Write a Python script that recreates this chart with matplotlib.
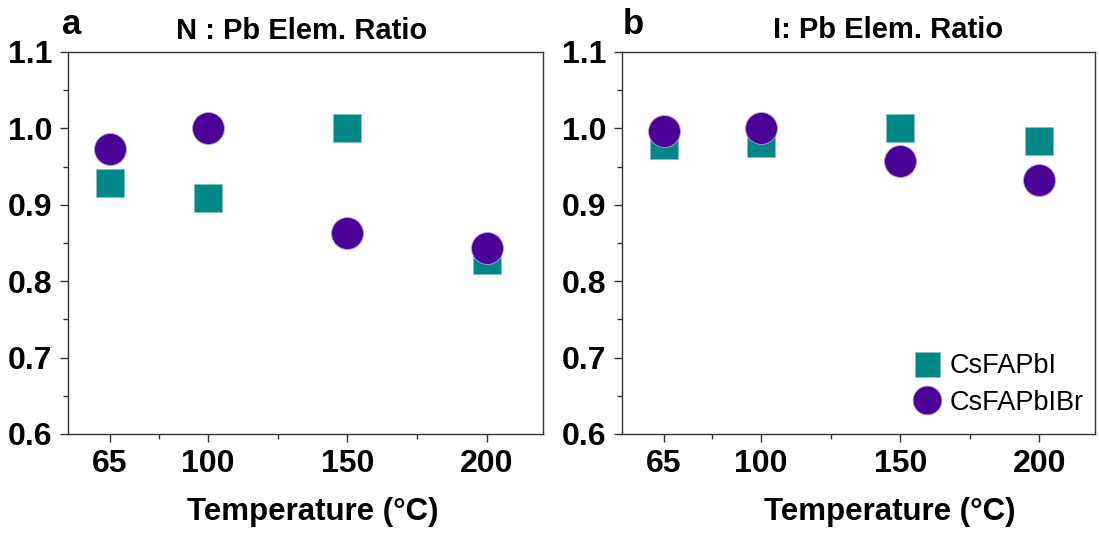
import numpy as np
import matplotlib
matplotlib.use('Agg')
import matplotlib.pyplot as plt
from matplotlib.ticker import FixedLocator, MultipleLocator

# Data
temps = [65, 100, 150, 200]
n_pb_csfapbi = [0.929, 0.909, 1.000, 0.828]
n_pb_csfapbibr = [0.973, 1.000, 0.863, 0.844]
i_pb_csfapbi = [0.978, 0.981, 1.000, 0.983]
i_pb_csfapbibr = [0.997, 1.000, 0.957, 0.933]

TEAL = '#008787'
PURPLE = '#4b0096'
W, H = 1099, 534

plt.rcParams['font.family'] = ['Liberation Sans', 'DejaVu Sans']

fig = plt.figure(figsize=(W / 100, H / 100), dpi=100)


def px_axes(left, top, right, bottom):
    return fig.add_axes([left / W, 1 - bottom / H, (right - left) / W, (bottom - top) / H])


def style(ax):
    ax.set_xlim(50, 220)
    ax.set_ylim(0.6, 1.1)
    ax.xaxis.set_major_locator(FixedLocator(temps))
    ax.xaxis.set_minor_locator(FixedLocator([82.5, 125, 175]))
    ax.yaxis.set_major_locator(MultipleLocator(0.1))
    ax.yaxis.set_minor_locator(MultipleLocator(0.05))
    ax.yaxis.set_major_formatter(plt.FormatStrFormatter('%.1f'))
    for s in ax.spines.values():
        s.set_color('#333333')
        s.set_linewidth(1.0)
    ax.tick_params(which='major', direction='out', length=6, width=1.0, color='#333333',
                   labelsize=23, pad=5)
    ax.tick_params(which='minor', direction='out', length=3.5, width=1.0, color='#333333')
    for lab in ax.get_xticklabels() + ax.get_yticklabels():
        lab.set_fontweight('bold')


def draw(ax, sq, ci):
    ax.plot(temps, sq, 's', ms=20, color=TEAL, mec='#7fc4c4', mew=0.6, ls='none', label='CsFAPbI')
    ax.plot(temps, ci, 'o', ms=23, color=PURPLE, mec='#b8a0d8', mew=0.6, ls='none', label='CsFAPbIBr')


ax_a = px_axes(68, 52, 543, 434)
draw(ax_a, n_pb_csfapbi, n_pb_csfapbibr)
style(ax_a)

ax_b = px_axes(622, 52, 1095, 434)
draw(ax_b, i_pb_csfapbi, i_pb_csfapbibr)
style(ax_b)

leg = ax_b.legend(loc='upper left', bbox_to_anchor=(913 / W, 1 - 353 / H),
                  bbox_transform=fig.transFigure, frameon=False, fontsize=19.5,
                  handlelength=1.0, handletextpad=0.35, borderpad=0, borderaxespad=0,
                  labelspacing=0.4, markerscale=0.9)

# panel letters, titles and axis labels
fig.text(62 / W, 1 - 34 / H, 'a', fontsize=25, fontweight='bold', va='baseline')
fig.text(623 / W, 1 - 34 / H, 'b', fontsize=25, fontweight='bold', va='baseline')
fig.text(302 / W, 1 - 39 / H, 'N : Pb Elem. Ratio', fontsize=21, fontweight='bold',
         ha='center', va='baseline')
fig.text(888 / W, 1 - 38 / H, 'I: Pb Elem. Ratio', fontsize=21, fontweight='bold',
         ha='center', va='baseline')
fig.text(313 / W, 1 - 520 / H, 'Temperature (°C)', fontsize=22.5, fontweight='bold',
         ha='center', va='baseline')
fig.text(890 / W, 1 - 520 / H, 'Temperature (°C)', fontsize=22.5, fontweight='bold',
         ha='center', va='baseline')

fig.savefig('out.png', dpi=100)
